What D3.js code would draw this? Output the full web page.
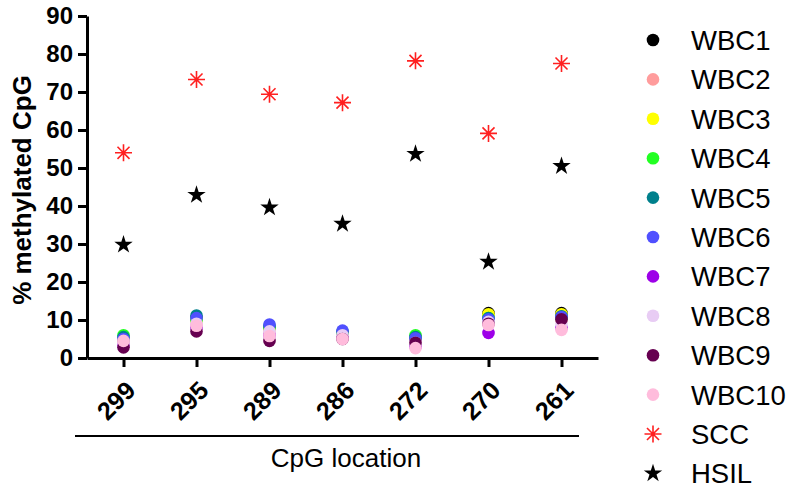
<!DOCTYPE html>
<html>
<head>
<meta charset="utf-8">
<script src="https://cdn.jsdelivr.net/npm/d3@7"></script>
<style>
  body { margin: 0; background: #fff; }
  text { font-family: Arial, "Liberation Sans", sans-serif; }
</style>
</head>
<body>
<div class="chart"></div>
<script>
// CpG locations (x categories)
const locations = ['299', '295', '289', '286', '272', '270', '261'];
const yTicks = [0, 10, 20, 30, 40, 50, 60, 70, 80, 90];

// % methylated per sample, one array per series
const wbc1  = [4.5, 10.5, 8.0, 6.5, 5.0, 11.8, 11.8];
const wbc2  = [4.0, 9.0, 7.0, 6.0, 4.5, 10.0, 10.0];
const wbc3  = [5.0, 10.0, 8.0, 6.8, 5.5, 11.5, 11.5];
const wbc4  = [6.0, 10.0, 8.0, 6.5, 6.0, 10.5, 10.5];
const wbc5  = [5.5, 11.2, 8.5, 7.0, 5.5, 10.5, 11.0];
const wbc6  = [5.0, 10.5, 8.8, 7.2, 5.2, 10.2, 10.8];
const wbc7  = [3.5, 8.0, 6.0, 5.5, 3.0, 6.6, 8.0];
const wbc8  = [4.0, 9.0, 7.0, 6.0, 4.0, 9.5, 9.0];
const wbc9  = [2.8, 7.0, 4.5, 5.0, 4.0, 9.0, 10.2];
const wbc10 = [4.5, 8.5, 5.8, 5.0, 2.6, 8.7, 7.4];
const scc   = [54.0, 73.3, 69.4, 67.2, 78.2, 59.1, 77.5];
const hsil  = [29.8, 42.9, 39.6, 35.3, 53.7, 25.3, 50.5];

const seriesNames = ['WBC1','WBC2','WBC3','WBC4','WBC5','WBC6','WBC7','WBC8','WBC9','WBC10','SCC','HSIL'];
const seriesValues = [wbc1, wbc2, wbc3, wbc4, wbc5, wbc6, wbc7, wbc8, wbc9, wbc10, scc, hsil];
const seriesColors = ['#000000','#ff9c9c','#ffff00','#22ff22','#00808c','#5050ff',
                      '#9d00e8','#e8ccf4','#660050','#ffbcdc','#ff2020','#000000'];
const seriesShapes = ['dot','dot','dot','dot','dot','dot','dot','dot','dot','dot','asterisk','star'];

const series = seriesNames.map((name, i) => ({
    name, values: seriesValues[i], color: seriesColors[i], shape: seriesShapes[i]
}));

const W = 797, H = 490;
const plot = { left: 87, right: 598, top: 16, bottom: 358 };

const x = d3.scalePoint().domain(locations).range([plot.left, plot.right]).padding(0.5);
const y = d3.scaleLinear().domain([0, 90]).range([plot.bottom, plot.top]);

const svg = d3.select('.chart').append('svg')
    .attr('width', W).attr('height', H);

// marker drawing
function asteriskPath(r) {
    const p = d3.path();
    for (let k = 0; k < 4; k++) {
        const a = k * Math.PI / 4;
        p.moveTo(-r * Math.cos(a), -r * Math.sin(a));
        p.lineTo(r * Math.cos(a), r * Math.sin(a));
    }
    return p.toString();
}

function drawMarker(g, shape, color, scale) {
    if (shape === 'dot') {
        g.append('circle').attr('r', 6.3 * scale).attr('fill', color);
    } else if (shape === 'asterisk') {
        g.append('path').attr('d', asteriskPath(8.5 * scale))
            .attr('stroke', color).attr('stroke-width', 1.6).attr('fill', 'none');
        g.append('circle').attr('r', 1.8 * scale).attr('fill', color);
    } else {
        g.append('path').attr('d', d3.symbol(d3.symbolStar, 105 * scale * scale)())
            .attr('fill', color);
    }
}

// axes
const yAxis = svg.append('g')
    .attr('transform', `translate(${plot.left},0)`)
    .call(d3.axisLeft(y).tickValues(yTicks).tickSize(9).tickSizeOuter(0).tickPadding(5));
yAxis.select('.domain').attr('stroke-width', 3);
yAxis.selectAll('.tick line').attr('stroke-width', 3);
yAxis.selectAll('.tick text')
    .attr('font-size', 24).attr('font-weight', 'bold').attr('fill', '#000')
    .style('font-family', 'Arial, "Liberation Sans", sans-serif');

const xAxis = svg.append('g')
    .attr('transform', `translate(0,${plot.bottom})`)
    .call(d3.axisBottom(x).tickSize(9).tickSizeOuter(0));
xAxis.select('.domain').attr('stroke-width', 3);
xAxis.selectAll('.tick line').attr('stroke-width', 3);
xAxis.selectAll('.tick text')
    .attr('font-size', 25).attr('font-weight', 'bold').attr('fill', '#000')
    .style('font-family', 'Arial, "Liberation Sans", sans-serif')
    .attr('text-anchor', 'end')
    .attr('x', 0).attr('y', 0).attr('dy', 0)
    .attr('transform', 'translate(13,34) rotate(-45)');

// bracket line under the category labels and title
svg.append('line')
    .attr('x1', 75).attr('x2', 579).attr('y1', 436).attr('y2', 436)
    .attr('stroke', '#000').attr('stroke-width', 2);

svg.append('text')
    .attr('x', 346).attr('y', 467)
    .attr('text-anchor', 'middle')
    .attr('font-size', 26)
    .text('CpG location');

svg.append('text')
    .attr('transform', 'translate(31,190) rotate(-90)')
    .attr('text-anchor', 'middle')
    .attr('font-size', 26).attr('font-weight', 'bold')
    .text('% methylated CpG');

// points
series.forEach(s => {
    svg.append('g').selectAll('g')
        .data(s.values)
        .enter()
        .append('g')
        .attr('transform', (d, i) => `translate(${x(locations[i])},${y(d)})`)
        .each(function() { drawMarker(d3.select(this), s.shape, s.color, 1); });
});

// legend
const legend = svg.append('g').attr('transform', 'translate(653,40)');
const rows = legend.selectAll('g')
    .data(series)
    .enter()
    .append('g')
    .attr('transform', (d, i) => `translate(0,${i * 39.4})`);
rows.each(function(d) { drawMarker(d3.select(this), d.shape, d.color, 1); });
rows.append('text')
    .attr('x', 38).attr('dy', '0.36em')
    .attr('font-size', 27.5)
    .text(d => d.name);
</script>
</body>
</html>
